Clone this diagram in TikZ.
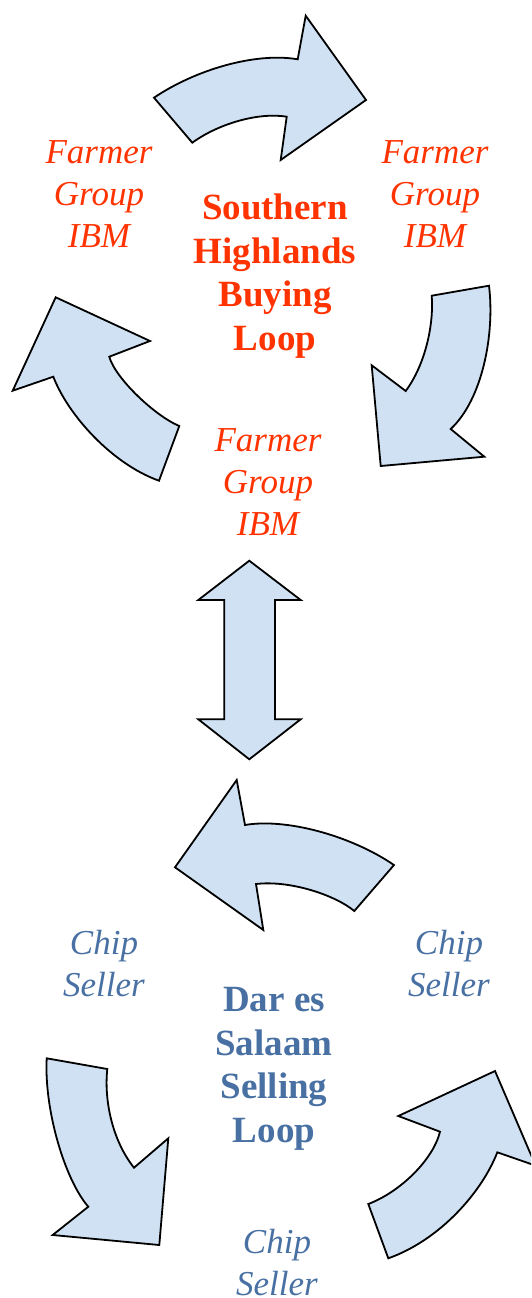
\documentclass[tikz,border=0pt]{standalone}
\usepackage{fontspec}
\setmainfont{Liberation Serif}
\usepackage{tikz}
\definecolor{buyred}{RGB}{255,51,0}
\definecolor{sellblue}{RGB}{72,112,163}
\definecolor{arrowfill}{RGB}{207,225,242}

\begin{document}
\begin{tikzpicture}[x=1pt, y=-1pt,
  blockarrow/.style={draw=black, fill=arrowfill, line width=1.8pt, line join=miter},
  member/.style={align=center, inner sep=0pt, font=\fontsize{35}{42}\selectfont\itshape},
  loopname/.style={align=center, inner sep=0pt, font=\fontsize{37}{43.5}\selectfont\bfseries}]
\useasboundingbox (0,0) rectangle (531,1298);
\clip (0,0) rectangle (531,1298);
\draw[blockarrow] (154,97.7) -- (192.3,142.7) .. controls (218,124) and (258,112) .. (286.7,116.7) -- (280.7,160) -- (366,100) -- (305.7,15.7) -- (297.7,59.3) .. controls (255,52) and (195,70) .. (154,97.7) -- cycle;
\draw[blockarrow] (55.7,297.3) -- (12.7,390.7) -- (53.3,376.7) .. controls (68,415) and (112,464) .. (159,480.7) -- (179.3,426) .. controls (155,416) and (115,378) .. (109.3,356.7) -- (150,341) -- cycle;
\draw[blockarrow] (489,285.7) -- (431.7,295.7) .. controls (434,325) and (425,365) .. (405.7,391) -- (371.7,365.3) -- (380.7,466) -- (484.3,456.7) -- (450.7,429) .. controls (482,400) and (495,335) .. (489,285.7) -- cycle;
\draw[blockarrow] (249.3,560.7) -- (198.3,600) -- (224.3,600) -- (224.3,719.3) -- (198.3,719.3) -- (249.3,759.3) -- (300.7,719.3) -- (275,719.3) -- (275,600) -- (300.7,600) -- cycle;
\draw[blockarrow] (175,867.3) -- (236.7,780) -- (245,825) .. controls (285,818) and (350,835) .. (394,865) -- (354.3,911) .. controls (335,895) and (290,880) .. (256,884) -- (263.3,930) -- cycle;
\draw[blockarrow] (46.7,1058.3) -- (107.3,1069) .. controls (104,1100) and (112,1140) .. (134,1167.7) -- (168.3,1138.3) -- (159.3,1245) -- (52.7,1235) -- (88.3,1206.7) .. controls (65,1180) and (44,1110) .. (46.7,1058.3) -- cycle;
\draw[blockarrow] (388.3,1258.3) -- (368.3,1204) .. controls (400,1192) and (433,1160) .. (440,1131.7) -- (398.3,1116) -- (495,1071) -- (535.6,1165.6) -- (497.3,1152.3) .. controls (482,1192) and (440,1240) .. (388.3,1258.3) -- cycle;
\node[member, text=buyred] (farmerL) at (99,194) {Farmer\\Group\\IBM};
\node[member, text=buyred] (farmerR) at (435,194) {Farmer\\Group\\IBM};
\node[member, text=buyred] (farmerC) at (268,482) {Farmer\\Group\\IBM};
\node[loopname, text=buyred] (buyloop) at (275,276) {Southern\\Highlands\\Buying\\Loop};
\node[member, text=sellblue] (chipL) at (104,964) {Chip\\Seller};
\node[member, text=sellblue] (chipR) at (449,964) {Chip\\Seller};
\node[member, text=sellblue] (chipB) at (277,1263) {Chip\\Seller};
\node[loopname, text=sellblue] (sellloop) at (274,1069) {Dar es\\Salaam\\Selling\\Loop};
\end{tikzpicture}
\end{document}
